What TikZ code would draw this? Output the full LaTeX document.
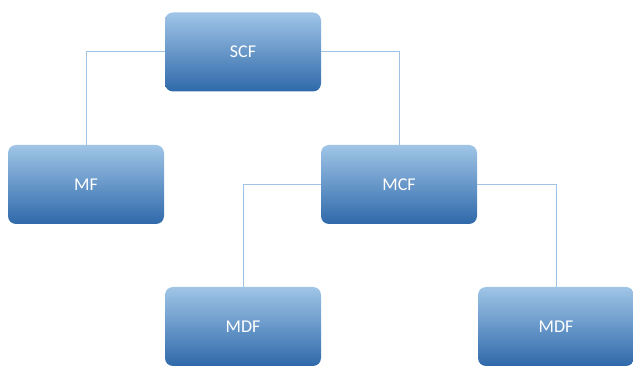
\documentclass[tikz,border=0pt]{standalone}
\usepackage{fontspec}
\setmainfont{Carlito}
\usetikzlibrary{positioning}
\definecolor{boxtop}{RGB}{160,197,231}
\definecolor{boxmid}{RGB}{104,160,216}
\definecolor{boxbot}{RGB}{47,105,170}
\definecolor{linkcol}{RGB}{160,195,226}

\begin{document}
\begin{tikzpicture}[x=1pt,y=1pt]
        \tikzset{unit/.style={rounded corners=8pt, minimum width=156pt, minimum height=79pt,
                top color=boxtop, middle color=boxmid, bottom color=boxbot,
                text=white, font=\fontsize{18}{21}\selectfont},
            link/.style={draw=linkcol, line width=1pt}}
        \useasboundingbox (0,0) rectangle (633,367);
        \node[unit] (scf) at (243,315) {SCF};
        \node[unit] (mf) at (86,182.5) {MF};
        \node[unit] (mcf) at (399,182.5) {MCF};
        \node[unit] (mdfl) at (243,40.5) {MDF};
        \node[unit] (mdfr) at (556,40.5) {MDF};
        \draw[link] (scf.west) -| (mf.north);
        \draw[link] (scf.east) -| (mcf.north);
        \draw[link] (mcf.west) -| (mdfl.north);
        \draw[link] (mcf.east) -| (mdfr.north);
\end{tikzpicture}
\end{document}
